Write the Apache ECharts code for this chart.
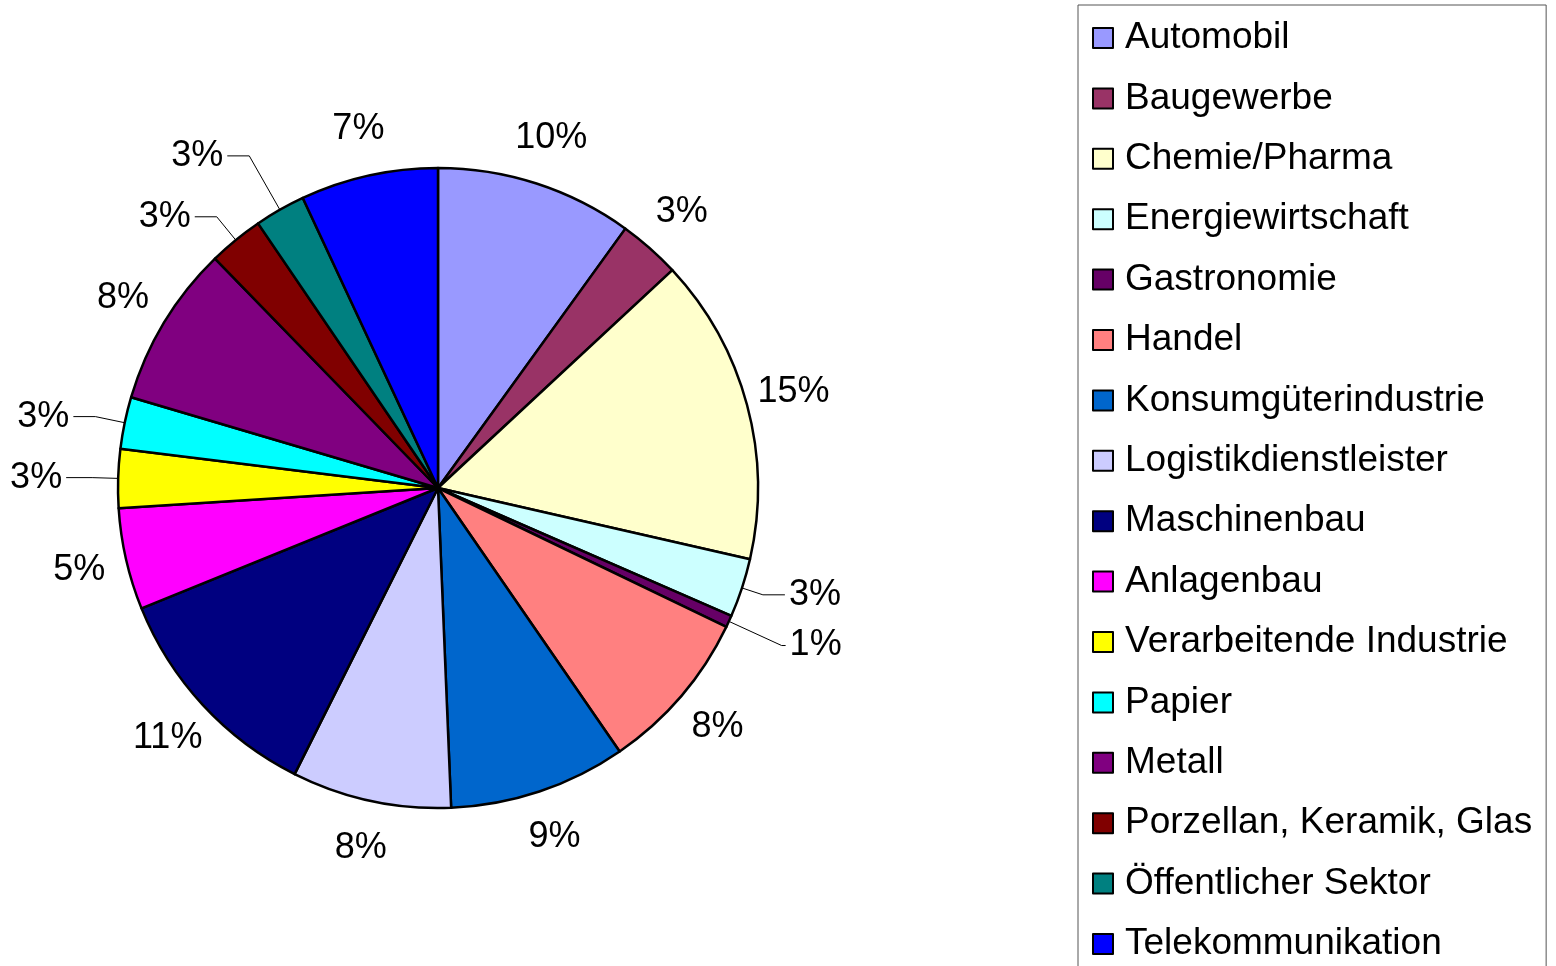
<!DOCTYPE html>
<html>
<head>
<meta charset="utf-8">
<script src="https://cdn.jsdelivr.net/npm/echarts@6/dist/echarts.min.js"></script>
<style>
html,body{margin:0;padding:0;background:#fff;}
#pieChart{width:1556px;height:966px;}
</style>
</head>
<body>
<div id="pieChart"></div>
<script>
var branchen = ['Automobil', 'Baugewerbe', 'Chemie/Pharma', 'Energiewirtschaft', 'Gastronomie', 'Handel',
	'Konsumgüterindustrie', 'Logistikdienstleister', 'Maschinenbau', 'Anlagenbau', 'Verarbeitende Industrie',
	'Papier', 'Metall', 'Porzellan, Keramik, Glas', 'Öffentlicher Sektor', 'Telekommunikation'];
var anteile = [9.9, 3.1, 15.4, 2.95, 0.6, 8.2, 8.9, 8.0, 11.4, 5.1, 2.95, 2.6, 8.1, 2.75, 2.55, 6.9];
var farben = ['#9999FF', '#993366', '#FFFFCC', '#CCFFFF', '#660066', '#FF8080', '#0066CC', '#CCCCFF',
	'#000080', '#FF00FF', '#FFFF00', '#00FFFF', '#800080', '#800000', '#008080', '#0000FF'];
// Führungslinien für die kleinen Segmente: [length, length2], null = keine Linie
var linien = [null, null, null, [22, 22], [58, 4], null, null, null, null, null, [26, 26], [30, 22], null, [30, 22], [62, 22], null];

var schrift = 'Liberation Sans';
var labelSize = 36;

var byId = function(id) {
	return document.getElementById(id);
};

var summe = 0;
for (var k = 0; k < anteile.length; k++) summe += anteile[k];

var ctx = document.createElement('canvas').getContext('2d');
ctx.font = labelSize + 'px "' + schrift + '"';

var getData = function() {
	var data = [];
	for (var i = 0; i < branchen.length; i++) {
		var txt = Math.round(anteile[i] / summe * 100) + '%';
		var w = ctx.measureText(txt).width;
		var line;
		if (linien[i]) {
			line = { show: true, length: linien[i][0], length2: linien[i][1] };
		} else {
			// ohne Linie: Text mittig auf dem Strahl durch die Segmentmitte
			line = { show: false, length: 48, length2: -(w / 2 + 4) };
		}
		data.push({
			name: branchen[i],
			value: anteile[i],
			itemStyle: { color: farben[i] },
			labelLine: line
		});
	}
	return data;
};

var option = {
	animation: false,
	color: farben,
	legend: {
		orient: 'vertical',
		left: 1078,
		top: 5,
		height: 1100,
		padding: [13, 14, 20, 14],
		itemWidth: 20,
		itemHeight: 20,
		itemGap: 20.4,
		borderColor: '#555',
		borderWidth: 1,
		icon: 'rect',
		data: branchen,
		textStyle: {
			fontFamily: schrift,
			fontSize: 37,
			lineHeight: 40,
			color: '#000',
			padding: [0, 0, 0, 7]
		}
	},
	series: [{
		type: 'pie',
		center: [438, 488],
		radius: 320,
		startAngle: 90,
		clockwise: true,
		avoidLabelOverlap: false,
		itemStyle: {
			borderColor: '#000',
			borderWidth: 2.5
		},
		label: {
			show: true,
			position: 'outside',
			fontFamily: schrift,
			fontSize: labelSize,
			color: '#000',
			distanceToLabelLine: 4,
			formatter: function(p) {
				return Math.round(p.value / summe * 100) + '%';
			}
		},
		labelLine: {
			lineStyle: { color: '#000', width: 1 }
		},
		data: getData()
	}]
};

var pieChart = echarts.init(byId('pieChart'));
pieChart.setOption(option);
</script>
</body>
</html>
